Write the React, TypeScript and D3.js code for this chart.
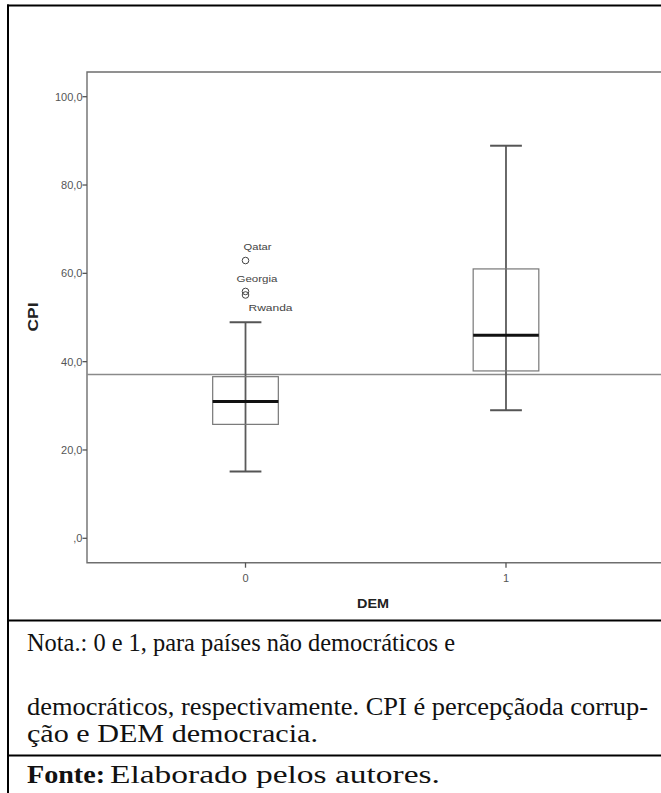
import React from "react";
import * as d3 from "d3";

const categories = ["0", "1"];
const whiskerLow = [15.1, 29.0];
const q1 = [25.8, 37.9];
const median = [31.0, 46.0];
const q3 = [36.6, 61.0];
const whiskerHigh = [48.9, 88.9];
const outlierCats = ["0", "0", "0"];
const outlierNames = ["Qatar", "Georgia", "Rwanda"];
const outlierValues = [62.9, 55.9, 55.1];
const referenceValue = 37.1;
const yTicks = [0, 20, 40, 60, 80, 100];
const yTickLabels = [",0", "20,0", "40,0", "60,0", "80,0", "100,0"];
const noteLines = [
  "Nota.: 0 e 1, para países não democráticos e",
  "democráticos, respectivamente. CPI é percepçãoda corrup-",
  "ção e DEM democracia.",
];
const sourceBold = "Fonte:";
const sourceText = "Elaborado pelos autores.";

export default function App() {
  const W = 661;
  const H = 793;
  const left = 87;
  const top = 72;
  const bottom = 562.7;
  const right = 664.5;

  const y = d3.scaleLinear().domain([0, 100]).range([538.3, 96.7]);
  const x = d3.scalePoint<string>().domain(categories).range([left, right]).padding(0.6085);
  const step = x.step();
  const boxW = step * 0.252;
  const capW = step * 0.122;

  const sans = "'Liberation Sans', Arial, sans-serif";
  const serif = "'Liberation Serif', 'Times New Roman', serif";

  const labelOffsets: Record<string, { dx: number; dy: number; len: number }> = {
    Qatar: { dx: -2, dy: -14, len: 28 },
    Georgia: { dx: -9, dy: -13, len: 41 },
    Rwanda: { dx: 3, dy: 13, len: 44 },
  };

  const noteY = [651, 715, 742];
  const noteLen = [428, 621, 291];

  return (
    <svg
      width={W}
      height={H}
      style={{ position: "absolute", left: 0, top: 0, background: "#fff" }}
    >
      <rect x={0} y={0} width={W} height={H} fill="#fff" />
      {/* outer frame */}
      <line x1={7} x2={W} y1={5.5} y2={5.5} stroke="#000" strokeWidth={2} />
      <line x1={8} x2={8} y1={4.5} y2={H} stroke="#000" strokeWidth={2} />
      <line x1={7} x2={W} y1={620.5} y2={620.5} stroke="#000" strokeWidth={2} />
      <line x1={7} x2={W} y1={755.5} y2={755.5} stroke="#000" strokeWidth={2} />

      {/* plot frame */}
      <path
        d={`M${right},${top}H${left}V${bottom}H${right}`}
        fill="none"
        stroke="#6e6e6e"
        strokeWidth={1.4}
      />

      {/* y ticks */}
      {yTicks.map((t, i) => (
        <g key={t}>
          <line x1={left - 4.5} x2={left} y1={y(t)} y2={y(t)} stroke="#555" strokeWidth={1.3} />
          <text
            x={left - 4.5}
            y={y(t)}
            dy="0.35em"
            textAnchor="end"
            fontFamily={sans}
            fontSize={11}
            fill="#555"
          >
            {yTickLabels[i]}
          </text>
        </g>
      ))}

      {/* x ticks */}
      {categories.map((c) => (
        <g key={c}>
          <line x1={x(c)!} x2={x(c)!} y1={bottom} y2={bottom + 5} stroke="#555" strokeWidth={1.3} />
          <text
            x={x(c)!}
            y={578}
            dy="0.35em"
            textAnchor="middle"
            fontFamily={sans}
            fontSize={11}
            fill="#555"
          >
            {c}
          </text>
        </g>
      ))}

      {/* reference line */}
      <line
        x1={left}
        x2={right}
        y1={y(referenceValue)}
        y2={y(referenceValue)}
        stroke="#8a8a8a"
        strokeWidth={1.4}
      />

      {/* boxes */}
      {categories.map((c, i) => {
        const cx = x(c)!;
        return (
          <g key={c}>
            <line
              x1={cx}
              x2={cx}
              y1={y(whiskerHigh[i])}
              y2={y(whiskerLow[i])}
              stroke="#5a5a5a"
              strokeWidth={1.8}
            />
            <rect
              x={cx - boxW / 2}
              y={y(q3[i])}
              width={boxW}
              height={y(q1[i]) - y(q3[i])}
              fill="none"
              stroke="#777"
              strokeWidth={1.2}
            />
            <line
              x1={cx - boxW / 2}
              x2={cx + boxW / 2}
              y1={y(median[i])}
              y2={y(median[i])}
              stroke="#111"
              strokeWidth={3}
            />
            <line
              x1={cx - capW / 2}
              x2={cx + capW / 2}
              y1={y(whiskerHigh[i])}
              y2={y(whiskerHigh[i])}
              stroke="#555"
              strokeWidth={2}
            />
            <line
              x1={cx - capW / 2}
              x2={cx + capW / 2}
              y1={y(whiskerLow[i])}
              y2={y(whiskerLow[i])}
              stroke="#555"
              strokeWidth={2}
            />
          </g>
        );
      })}

      {/* outliers */}
      {outlierValues.map((v, i) => {
        const cx = x(outlierCats[i])!;
        const cy = y(v);
        const off = labelOffsets[outlierNames[i]];
        return (
          <g key={outlierNames[i]}>
            <circle cx={cx} cy={cy} r={3.3} fill="none" stroke="#444" strokeWidth={1} />
            <text
              x={cx + off.dx}
              y={cy + off.dy}
              dy="0.35em"
              fontFamily={sans}
              fontSize={9.5}
              fill="#444"
              textLength={off.len}
              lengthAdjust="spacingAndGlyphs"
            >
              {outlierNames[i]}
            </text>
          </g>
        );
      })}

      {/* axis titles */}
      <text
        transform={`translate(${38},${317}) rotate(-90)`}
        textAnchor="middle"
        fontFamily={sans}
        fontWeight="bold"
        fontSize={14}
        fill="#222"
        textLength={29}
        lengthAdjust="spacingAndGlyphs"
      >
        CPI
      </text>
      <text
        x={373}
        y={603}
        dy="0.35em"
        textAnchor="middle"
        fontFamily={sans}
        fontWeight="bold"
        fontSize={13.5}
        fill="#222"
        textLength={32}
        lengthAdjust="spacingAndGlyphs"
      >
        DEM
      </text>

      {/* notes */}
      {noteLines.map((line, i) => (
        <text
          key={i}
          x={27}
          y={noteY[i]}
          fontFamily={serif}
          fontSize={25}
          fill="#111"
          textLength={noteLen[i]}
          lengthAdjust="spacingAndGlyphs"
        >
          {line}
        </text>
      ))}
      <text
        x={27}
        y={783}
        fontFamily={serif}
        fontSize={25}
        fontWeight="bold"
        fill="#111"
        textLength={78}
        lengthAdjust="spacingAndGlyphs"
      >
        {sourceBold}
      </text>
      <text
        x={110}
        y={783}
        fontFamily={serif}
        fontSize={25}
        fill="#111"
        textLength={330}
        lengthAdjust="spacingAndGlyphs"
      >
        {sourceText}
      </text>
    </svg>
  );
}
